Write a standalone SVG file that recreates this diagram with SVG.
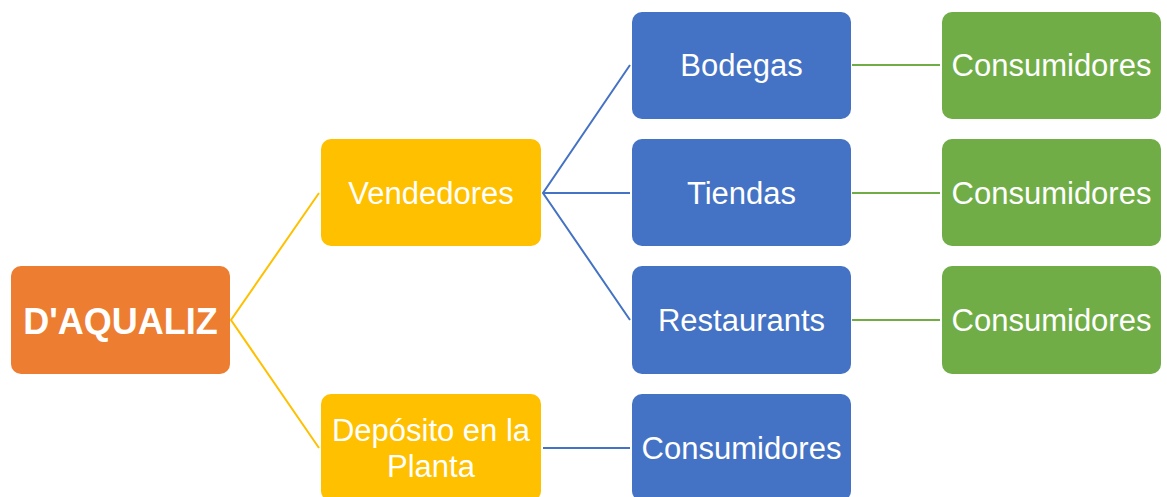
<svg xmlns="http://www.w3.org/2000/svg" width="1167" height="497" viewBox="0 0 1167 497">
<style>
.n{stroke:none}
.orange{fill:#ED7D31}
.yellow{fill:#FFC000}
.blue{fill:#4472C4}
.green{fill:#70AD47}
.t{font-family:"Liberation Sans",Arial,sans-serif;font-size:31px;fill:#FFFFFF;text-anchor:middle;dominant-baseline:central}
.tb{font-weight:bold;font-size:36px}
.cy{stroke:#FFC000;stroke-width:2;fill:none}
.cb{stroke:#4472C4;stroke-width:2;fill:none}
.cg{stroke:#70AD47;stroke-width:2;fill:none}
</style>
<rect width="1167" height="497" fill="#FFFFFF"/>
<g id="connectors">
<polyline class="cy" points="319,193 231,320 319,448"/>
<polyline class="cb" points="630,65 543,193 630,320"/>
<line class="cb" x1="543" y1="193" x2="630" y2="193"/>
<line class="cb" x1="543" y1="448" x2="630" y2="448"/>
<line class="cg" x1="852" y1="65" x2="940" y2="65"/>
<line class="cg" x1="852" y1="193" x2="940" y2="193"/>
<line class="cg" x1="852" y1="320" x2="940" y2="320"/>
</g>
<g id="root">
<rect class="n orange" x="11" y="266" width="219" height="108" rx="10"/>
<text class="t tb" x="120.5" y="321">D'AQUALIZ</text>
</g>
<g id="vendedores">
<rect class="n yellow" x="321" y="139" width="220" height="107" rx="10"/>
<text class="t" x="431" y="193">Vendedores</text>
</g>
<g id="deposito">
<rect class="n yellow" x="321" y="394" width="220" height="107" rx="10"/>
<text class="t" x="431" y="430">Depósito en la</text>
<text class="t" x="431" y="466">Planta</text>
</g>
<g id="bodegas">
<rect class="n blue" x="632" y="12" width="219" height="107" rx="10"/>
<text class="t" x="741.5" y="65.5">Bodegas</text>
</g>
<g id="tiendas">
<rect class="n blue" x="632" y="139" width="219" height="107" rx="10"/>
<text class="t" x="741.5" y="193">Tiendas</text>
</g>
<g id="restaurants">
<rect class="n blue" x="632" y="266" width="219" height="108" rx="10"/>
<text class="t" x="741.5" y="320">Restaurants</text>
</g>
<g id="consumidores-planta">
<rect class="n blue" x="632" y="394" width="219" height="107" rx="10"/>
<text class="t" x="741.5" y="448">Consumidores</text>
</g>
<g id="consumidores-bodegas">
<rect class="n green" x="942" y="12" width="219" height="107" rx="10"/>
<text class="t" x="1051.5" y="65.5">Consumidores</text>
</g>
<g id="consumidores-tiendas">
<rect class="n green" x="942" y="139" width="219" height="107" rx="10"/>
<text class="t" x="1051.5" y="193">Consumidores</text>
</g>
<g id="consumidores-restaurants">
<rect class="n green" x="942" y="266" width="219" height="108" rx="10"/>
<text class="t" x="1051.5" y="320">Consumidores</text>
</g>
</svg>
